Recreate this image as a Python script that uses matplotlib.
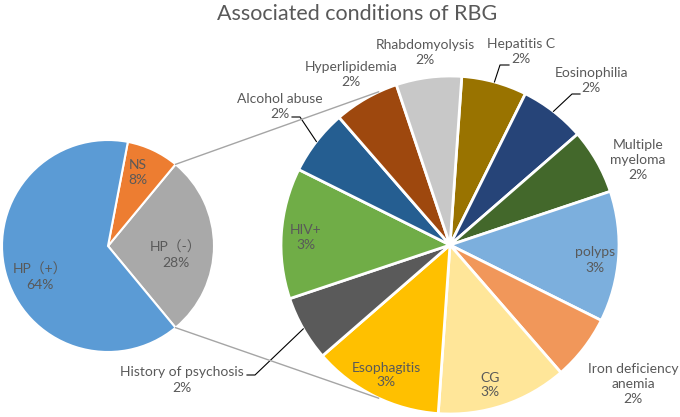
import numpy as np
import matplotlib.pyplot as plt

plt.rcParams['font.family'] = ['Lato', 'Noto Sans CJK SC', 'DejaVu Sans']

W, H = 680, 417

# первый (основной) круг
main_labels = ['HP（-）', 'NS', 'HP（+）']
main_values = [28, 8, 64]
main_pct = ['28%', '8%', '64%']
main_colors = ['#A9A9A9', '#ED7D31', '#5B9BD5']

# второй круг - расшифровка HP(-)
sub_labels = ['Hepatitis C', 'Eosinophilia', 'Multiple\nmyeloma', 'polyps',
              'Iron deficiency\nanemia', 'CG', 'Esophagitis', 'History of psychosis',
              'HIV+', 'Alcohol abuse', 'Hyperlipidemia', 'Rhabdomyolysis']
sub_counts = [1, 1, 1, 2, 1, 2, 2, 1, 2, 1, 1, 1]
sub_pct = ['2%', '2%', '2%', '3%', '2%', '3%', '3%', '2%', '3%', '2%', '2%', '2%']
sub_colors = ['#997300', '#264478', '#43682B', '#7CAFDD', '#F1975A', '#FFE699',
              '#FFC000', '#5A5A5A', '#70AD47', '#255E91', '#9E480E', '#C8C8C8']

# положение кругов (в пикселях, y сверху вниз)
c1, r1 = (108, 246), 106
c2, r2 = (450, 245), 169

main_pos = [(176, 255), (138, 172), (40, 277)]
sub_pos = [(521, 51), (591, 80), (638, 160), (595, 260), (633, 384), (490, 385),
           (386, 375), (182, 380), (306, 237), (280, 106), (351, 74), (425, 52)]
# выноски: индекс сектора -> (излом, конец у подписи)
leaders = {0: ((500, 65), (509, 65)), 1: ((572, 94), (580, 94)),
           7: ((255, 375), (247, 375)), 9: ((300, 117), (292, 117))}


def P(x, y):
    return x, H - y


fig = plt.figure(figsize=(W / 100, H / 100), dpi=100)
ax = fig.add_axes([0, 0, 1, 1])

start1 = -main_values[0] / sum(main_values) * 180
ax.pie(main_values, colors=main_colors, center=P(*c1), radius=r1, startangle=start1,
       wedgeprops=dict(edgecolor='white', linewidth=1.5), frame=True)

ax.pie(sub_counts, colors=sub_colors, center=P(*c2), radius=r2, startangle=86,
       counterclock=False, wedgeprops=dict(edgecolor='white', linewidth=2), frame=True)
ax.set_xlim(0, W)
ax.set_ylim(0, H)
ax.set_aspect('equal')
ax.axis('off')

txt = dict(color='#595959', fontsize=10, ha='center', va='center', linespacing=1.3)
for lab, pct, (x, y) in zip(main_labels, main_pct, main_pos):
    ax.text(*P(x, y), f'{lab}\n{pct}', **txt)
for lab, pct, (x, y) in zip(sub_labels, sub_pct, sub_pos):
    ax.text(*P(x, y), f'{lab}\n{pct}', **txt)

# выноски от середины сектора
total = sum(sub_counts)
cum = np.cumsum([0] + sub_counts)
for i, (elbow, end) in leaders.items():
    mid = np.radians(86 - (cum[i] + cum[i + 1]) / 2 / total * 360)
    sx, sy = c2[0] + r2 * np.cos(mid), H - c2[1] + r2 * np.sin(mid)
    ax.plot([sx, P(*elbow)[0], P(*end)[0]], [sy, P(*elbow)[1], P(*end)[1]],
            color='black', lw=0.8)

# соединительные линии между кругами
for s in (1, -1):
    a1 = np.radians(s * abs(start1))
    a2 = np.radians(180 - s * 65)
    x1, y1 = c1[0] + r1 * np.cos(a1), H - c1[1] + r1 * np.sin(a1)
    x2, y2 = c2[0] + r2 * np.cos(a2), H - c2[1] + r2 * np.sin(a2)
    ax.plot([x1, x2], [y1, y2], color='#A5A5A5', lw=1)

ax.text(*P(357, 14), 'Associated conditions of RBG', color='#595959', fontsize=15.5,
        ha='center', va='center')

fig.savefig('out.png', dpi=100)
